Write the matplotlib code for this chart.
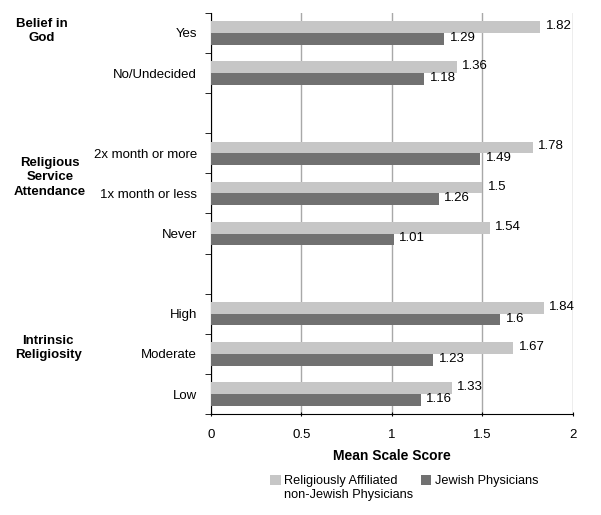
import matplotlib.pyplot as plt
import numpy as np

plt.rcParams['font.family'] = ['Liberation Sans', 'DejaVu Sans']

categories = ["Yes", "No/Undecided", "2x month or more", "1x month or less", "Never",
              "High", "Moderate", "Low"]
slots = [0, 1, 3, 4, 5, 7, 8, 9]
non_jewish = [1.82, 1.36, 1.78, 1.5, 1.54, 1.84, 1.67, 1.33]
jewish = [1.29, 1.18, 1.49, 1.26, 1.01, 1.6, 1.23, 1.16]
groups = ["Belief in\nGod", "Religious\nService\nAttendance", "Intrinsic\nReligiosity"]
group_y = [-0.05, 3.6, 7.85]
group_x = [-0.467, -0.445, -0.45]

light = "#c6c6c6"
dark = "#717171"

fig = plt.figure(figsize=(6.01, 5.15), dpi=100)
ax = fig.add_axes([0.351, 0.196, 0.602, 0.779])

y = np.array(slots, dtype=float)
h = 0.29
ax.barh(y - 0.145, non_jewish, height=h, color=light, zorder=3,
        label="Religiously Affiliated\nnon-Jewish Physicians")
ax.barh(y + 0.145, jewish, height=h, color=dark, zorder=3, label="Jewish Physicians\n ")

for yi, a, b in zip(y, non_jewish, jewish):
    ax.text(a + 0.03, yi - 0.17, f"{a:g}", va="center", ha="left", fontsize=9.5, zorder=4)
    ax.text(b + 0.03, yi + 0.12, f"{b:g}", va="center", ha="left", fontsize=9.5, zorder=4)

ax.set_xlim(0, 2)
ax.set_ylim(9.5, -0.5)
ax.set_xticks([0, 0.5, 1, 1.5, 2])
ax.set_xticklabels(["0", "0.5", "1", "1.5", "2"], fontsize=9.5)
ax.set_yticks(y)
ax.set_yticklabels(categories, fontsize=9.5)
ax.tick_params(axis="y", which="major", length=0, pad=10)
ax.set_yticks(np.arange(-0.5, 10, 1), minor=True)
ax.tick_params(axis="y", which="minor", length=4, direction="out")
ax.tick_params(axis="x", length=3, direction="inout", pad=9)
ax.grid(axis="x", color="#a8a8a8", linewidth=1, zorder=0)
for s in ["top", "right"]:
    ax.spines[s].set_visible(False)
ax.set_xlabel("Mean Scale Score", fontsize=10, fontweight="bold", labelpad=6)

for g, gy, gx in zip(groups, group_y, group_x):
    ax.text(gx, gy, g, transform=ax.get_yaxis_transform(), ha="center", va="center",
            fontsize=9.5, fontweight="bold", linespacing=1.3)

leg = ax.legend(loc="upper center", bbox_to_anchor=(0.535, -0.14), ncol=2, frameon=False,
                fontsize=9.2, handlelength=0.8, handleheight=0.8, handletextpad=0.3,
                columnspacing=0.6, borderaxespad=0)
for hp in leg.get_patches():
    hp.set_y(hp.get_y() + 6)

plt.savefig("out.png", dpi=100)
